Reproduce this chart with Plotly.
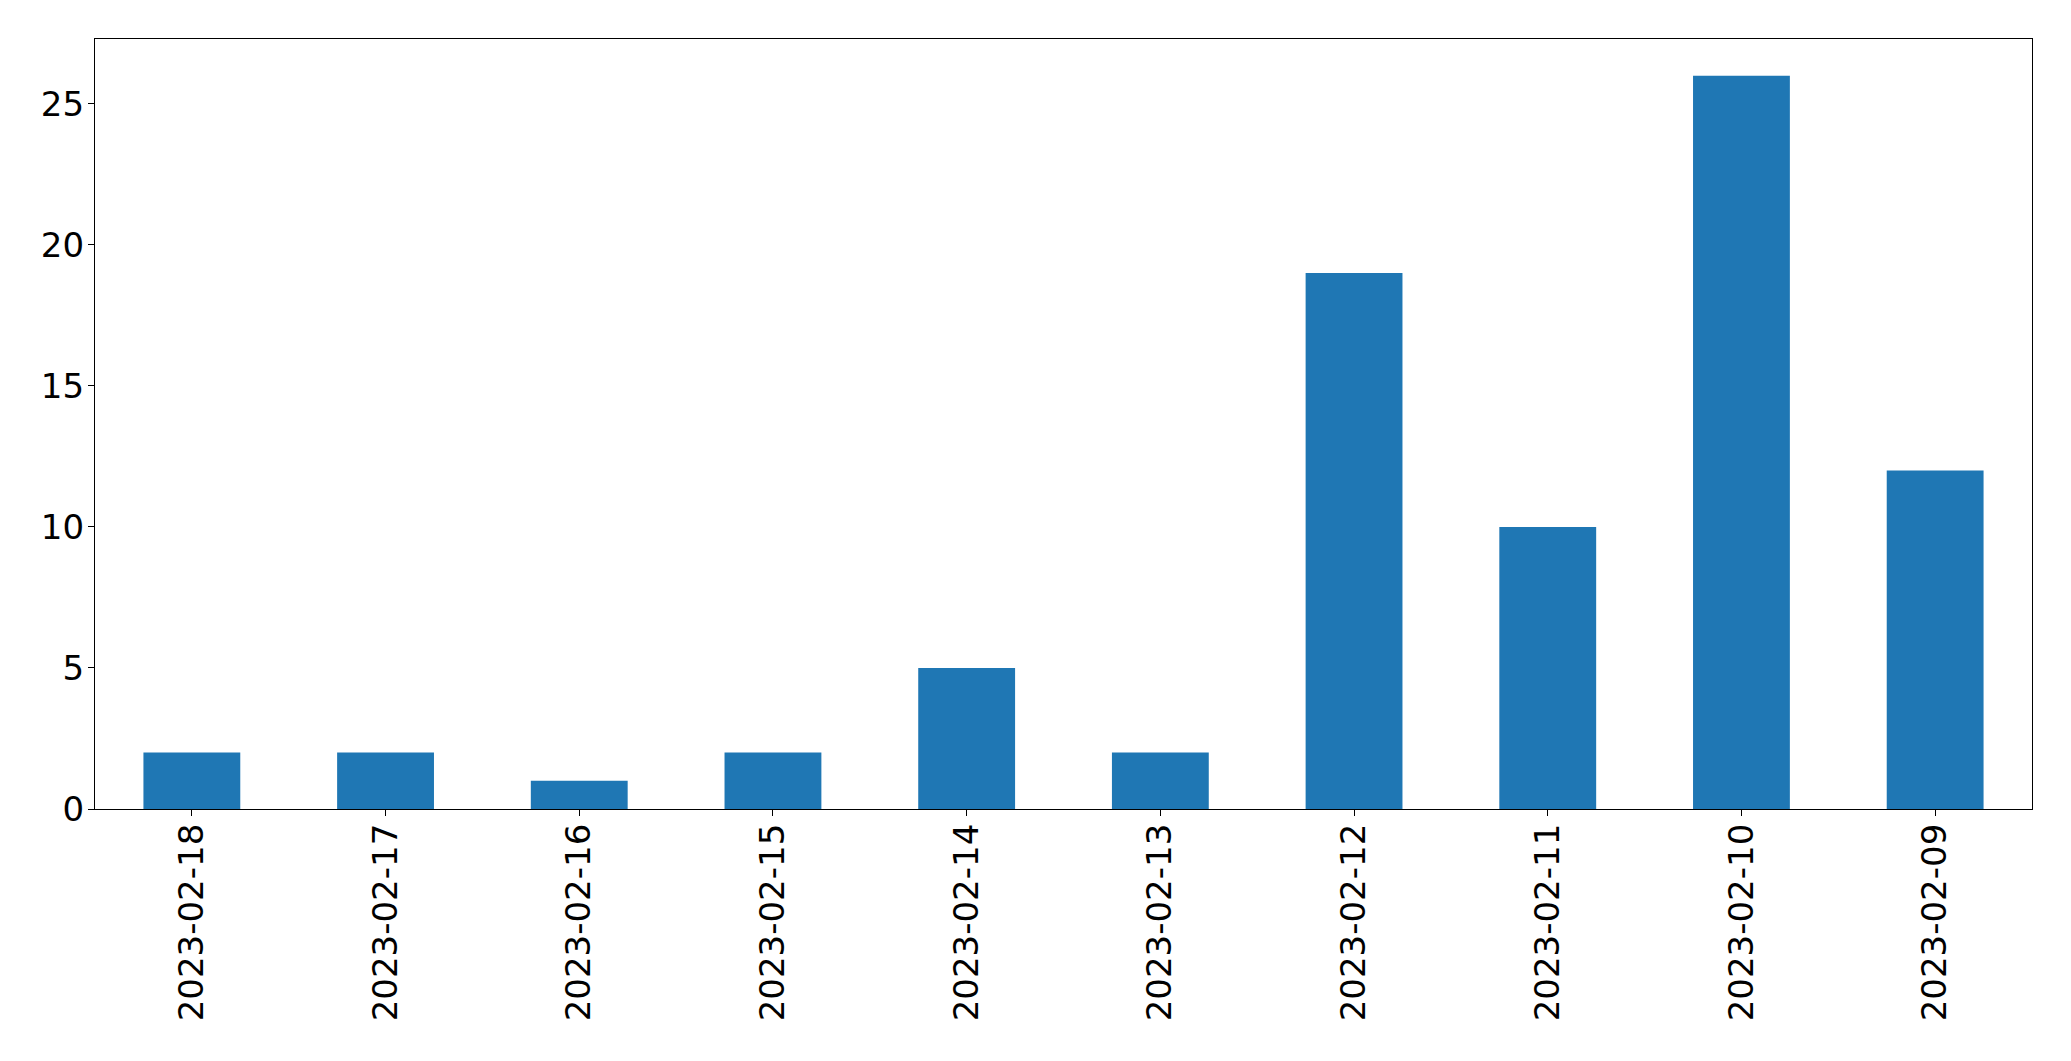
import plotly.graph_objects as go

dates = ["2023-02-18", "2023-02-17", "2023-02-16", "2023-02-15", "2023-02-14",
         "2023-02-13", "2023-02-12", "2023-02-11", "2023-02-10", "2023-02-09"]
counts = [2, 2, 1, 2, 5, 2, 19, 10, 26, 12]
y_ticks = [0, 5, 10, 15, 20, 25]

fig = go.Figure(go.Bar(x=dates, y=counts, marker_color="#1f77b4",
                       marker_line_width=0, width=0.5))

font = dict(family="DejaVu Sans", size=34, color="black")
# page body has an 8px default margin; compensate in figure size/margins
fig.update_layout(
    width=2063, height=1053,
    margin=dict(l=87, r=39, t=31, b=252, pad=0, autoexpand=False),
    paper_bgcolor="white", plot_bgcolor="white",
    showlegend=False, bargap=0.5,
    font=font,
)
fig.update_xaxes(type="category", range=[-0.5, 9.5], tickangle=-90, automargin=False,
                 showline=True, linecolor="black", linewidth=1.3, mirror=True,
                 ticks="outside", ticklen=6, tickcolor="black", tickwidth=1.3,
                 showgrid=False, tickfont=font, ticklabelstandoff=-6)
fig.update_yaxes(range=[0, 27.3], tickvals=y_ticks, automargin=False,
                 showline=True, linecolor="black", linewidth=1.3, mirror=True,
                 ticks="outside", ticklen=6, tickcolor="black", tickwidth=1.3,
                 showgrid=False, zeroline=False, tickfont=font, ticklabelstandoff=-3)

fig.write_html("out.html")
